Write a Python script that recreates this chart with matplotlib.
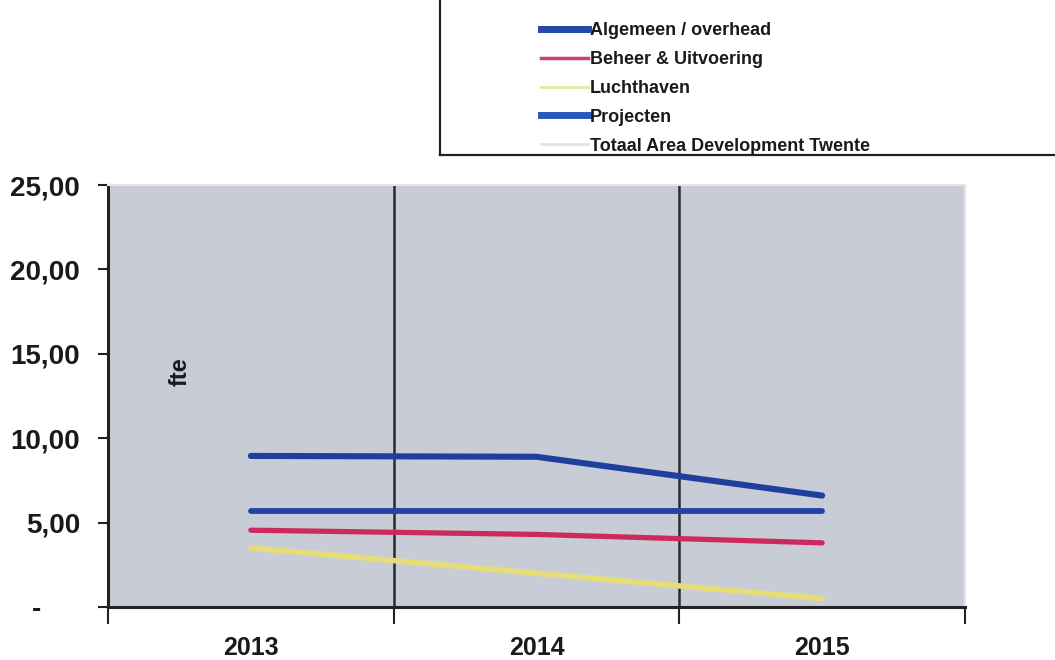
import matplotlib
matplotlib.use("Agg")
import matplotlib.pyplot as plt
from matplotlib.lines import Line2D

years = ["2013", "2014", "2015"]
algemeen = [8.95, 8.9, 6.6]
beheer = [4.55, 4.3, 3.8]
luchthaven = [3.5, 2.0, 0.5]
projecten = [5.7, 5.7, 5.7]
series_names = ["Algemeen / overhead", "Beheer & Uitvoering", "Luchthaven",
                "Projecten", "Totaal Area Development Twente"]
y_ticks = [0, 5, 10, 15, 20, 25]
y_ticklabels = ["-     ", "5,00", "10,00", "15,00", "20,00", "25,00"]

plt.rcParams["font.family"] = ["Liberation Sans", "DejaVu Sans"]
plt.rcParams["font.weight"] = "bold"

fig = plt.figure(figsize=(10.55, 6.6), dpi=100)
fig.patch.set_facecolor("white")
ax = fig.add_axes([108 / 1055, 1 - 607 / 660, (965 - 108) / 1055, (607 - 185) / 660])
ax.set_facecolor("#c8ccd7")

x = list(range(len(years)))
ax.plot(x, algemeen, color="#1f3f9c", lw=4.4, solid_capstyle="round", zorder=5)
ax.plot(x, projecten, color="#2142a6", lw=4.2, solid_capstyle="round", zorder=4)
ax.plot(x, beheer, color="#cc2a5c", lw=3.8, solid_capstyle="round", zorder=3)
ax.plot(x, luchthaven, color="#e4dd78", lw=4.0, solid_capstyle="round", zorder=2)

ax.set_xlim(-0.5, 2.5)
ax.set_ylim(0, 25)

# category boundaries carry the ticks and the vertical gridlines
ax.set_xticks([-0.5, 0.5, 1.5, 2.5])
ax.set_xticklabels([])
ax.set_xticks(x, minor=True)
ax.set_xticklabels(years, minor=True, fontsize=18, fontweight="bold", color="#1a1a1a")
ax.tick_params(axis="x", which="major", direction="out", length=12, width=1.5, color="#222222")
ax.tick_params(axis="x", which="minor", length=0, pad=21)
for xb in [0.5, 1.5]:
    ax.axvline(xb, color="#2a2a2a", lw=1.8, zorder=1)

ax.set_yticks(y_ticks)
ax.set_yticklabels(y_ticklabels, fontsize=20, fontweight="bold", color="#1a1a1a")
ax.tick_params(axis="y", direction="out", length=7, width=1.5, color="#222222", pad=13)

for side in ["left", "bottom"]:
    ax.spines[side].set_color("#222222")
    ax.spines[side].set_linewidth(2.2)
for side in ["top", "right"]:
    ax.spines[side].set_color("#e4e6ec")
    ax.spines[side].set_linewidth(1.5)

ax.text(0.084, 0.557, "fte", transform=ax.transAxes, rotation=90, fontsize=17,
        fontweight="bold", color="#1a1a1a", ha="center", va="center")

handles = [
    Line2D([], [], color="#2449a8", lw=5),
    Line2D([], [], color="#d0406a", lw=2.5),
    Line2D([], [], color="#e6e6a4", lw=2),
    Line2D([], [], color="#2a58bc", lw=5),
    Line2D([], [], color="#dfe2ea", lw=2),
]
fig.legend(handles, series_names, loc="upper left",
           bbox_to_anchor=(532 / 1055, 1 - 13 / 660), frameon=False,
           prop={"family": "Liberation Sans", "weight": "bold", "size": 13},
           handlelength=2.6, handletextpad=0.1, labelspacing=0.66,
           labelcolor="#1a1a1a", borderpad=0)

# legend frame edges (top and right lie beyond the figure)
fig.add_artist(Line2D([440 / 1055, 440 / 1055], [1.0, 1 - 155 / 660],
                      transform=fig.transFigure, color="#222222", lw=1.6))
fig.add_artist(Line2D([440 / 1055, 1.0], [1 - 155 / 660, 1 - 155 / 660],
                      transform=fig.transFigure, color="#222222", lw=1.6))

fig.savefig("out.png", dpi=100)
